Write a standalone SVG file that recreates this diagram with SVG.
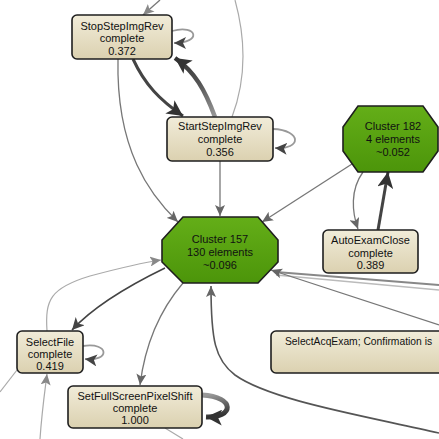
<svg xmlns="http://www.w3.org/2000/svg" width="439" height="439" viewBox="0 0 439 439">
<defs>
<linearGradient id="beige" x1="0" y1="0" x2="0" y2="1"><stop offset="0" stop-color="#f1ecd9"/><stop offset="1" stop-color="#dbd1b0"/></linearGradient>
<linearGradient id="green" x1="0" y1="0" x2="0" y2="1"><stop offset="0" stop-color="#64ae18"/><stop offset="1" stop-color="#4c950a"/></linearGradient>
<linearGradient id="g4" gradientUnits="userSpaceOnUse" x1="215" y1="117" x2="175" y2="58"><stop offset="0" stop-color="#999"/><stop offset="0.5" stop-color="#555"/><stop offset="1" stop-color="#333"/></linearGradient>
<linearGradient id="g20" gradientUnits="userSpaceOnUse" x1="202" y1="396" x2="206" y2="418"><stop offset="0" stop-color="#999"/><stop offset="1" stop-color="#333"/></linearGradient>
<marker id="aDark" markerUnits="userSpaceOnUse" markerWidth="14" markerHeight="12" refX="12" refY="6" orient="auto" viewBox="0 0 14 12"><path d="M0,0 L12,6 L0,12 L3,6 z" fill="#444"/></marker>
<marker id="aGray" markerUnits="userSpaceOnUse" markerWidth="12" markerHeight="10" refX="11" refY="5" orient="auto" viewBox="0 0 12 10"><path d="M0,0 L11,5 L0,10 L2.5,5 z" fill="#666"/></marker>
<marker id="aLight" markerUnits="userSpaceOnUse" markerWidth="12" markerHeight="10" refX="11" refY="5" orient="auto" viewBox="0 0 12 10"><path d="M0,0 L11,5 L0,10 L2.5,5 z" fill="#888"/></marker>
<marker id="aBig" markerUnits="userSpaceOnUse" markerWidth="18" markerHeight="16" refX="16" refY="8" orient="auto" viewBox="0 0 18 16"><path d="M0,0 L16,8 L0,16 L4,8 z" fill="#333"/></marker>
</defs>
<style>
.box{fill:url(#beige);stroke:#1e1e1e;stroke-width:1.6}
.oct{fill:url(#green);stroke:#1e1e1e;stroke-width:1.6}
text{font-family:"Liberation Sans",Arial,sans-serif;font-size:11px;fill:#111;text-anchor:middle}
.e{fill:none}
.light{stroke:#aaa;stroke-width:1.2}
.gray{stroke:#777;stroke-width:1.3}
.dark{stroke:#444;stroke-width:1.6}
</style>
<g id="connectors">
<path class="e gray" d="M160,0 L143,15" marker-end="url(#aLight)"/>
<path class="e" stroke="#999" stroke-width="1.8" d="M172,31 C198,24 202,43 174,43" marker-end="url(#aDark)"/>
<path class="e" stroke="#444" stroke-width="3" d="M133,59 C145,85 160,100 183,116" marker-end="url(#aBig)"/>
<path class="e" stroke="url(#g4)" stroke-width="4.5" d="M215,117 C205,90 195,72 175,58" marker-end="url(#aBig)"/>
<path class="e light" d="M235,0 C246,40 246,80 232,117"/>
<path class="e gray" d="M118,59 C116,150 150,195 178,222" marker-end="url(#aGray)"/>
<path class="e gray" d="M220,161 L220,216" marker-end="url(#aGray)"/>
<path class="e" stroke="#999" stroke-width="1.8" d="M273,129 C302,130 302,150 275,148" marker-end="url(#aDark)"/>
<path class="e gray" d="M352,164 L262,222" marker-end="url(#aGray)"/>
<path class="e gray" d="M363,172 C350,190 352,212 358,229" marker-end="url(#aGray)"/>
<path class="e" stroke="#444" stroke-width="3" d="M378,230 L388,172" marker-end="url(#aBig)"/>
<path class="e" stroke="#888" stroke-width="2" d="M439,285 L276,272"/>
<path class="e" stroke="#bbb" stroke-width="1.5" d="M439,290 L276,275"/>
<path class="e gray" d="M439,325 L271,270" marker-end="url(#aGray)"/>
<path class="e" stroke="#555" stroke-width="1.6" d="M439,433 C360,415 270,400 235,375 C215,360 211,340 211,286" marker-end="url(#aGray)"/>
<path class="e dark" d="M165,268 C130,285 95,305 72,330" marker-end="url(#aDark)"/>
<path class="e gray" d="M183,283 C160,310 145,345 140,385" marker-end="url(#aGray)"/>
<path class="e light" d="M47,331 C45,300 50,288 90,276 C120,268 140,263 161,260" marker-end="url(#aLight)"/>
<path class="e" stroke="#999" stroke-width="1.8" d="M83,346 C110,342 110,362 85,359" marker-end="url(#aDark)"/>
<path class="e light" d="M40,439 C42,410 45,390 47,374" marker-end="url(#aLight)"/>
<path class="e light" d="M0,392 L17,370"/>
<path class="e" stroke="url(#g20)" stroke-width="5" d="M202,395 C236,397 234,418 206,417" marker-end="url(#aBig)"/>
<path class="e light" d="M165,428 L183,439"/>
</g>
<g id="StopStepImgRev"><rect class="box" x="72" y="15" width="100" height="44" rx="5"/><text x="122" y="29.5">StopStepImgRev</text><text x="122" y="42">complete</text><text x="122" y="54.5">0.372</text></g>
<g id="StartStepImgRev"><rect class="box" x="167" y="117" width="106" height="44" rx="5"/><text x="220" y="130">StartStepImgRev</text><text x="220" y="143">complete</text><text x="220" y="156">0.356</text></g>
<g id="Cluster182"><polygon class="oct" points="358,106 423,106 438,127 438,151 423,172 358,172 343,151 343,127"/><text x="393" y="130">Cluster 182</text><text x="393" y="143">4 elements</text><text x="393" y="156">~0.052</text></g>
<g id="Cluster157"><polygon class="oct" points="183,217 258,217 278,240 278,262 258,283 183,283 162,262 162,240"/><text x="220" y="243">Cluster 157</text><text x="220" y="256">130 elements</text><text x="220" y="269">~0.096</text></g>
<g id="AutoExamClose"><rect class="box" x="323" y="230" width="95" height="43" rx="5"/><text x="370.5" y="244">AutoExamClose</text><text x="370.5" y="256.5">complete</text><text x="370.5" y="269">0.389</text></g>
<g id="SelectFile"><rect class="box" x="17" y="331" width="66" height="42" rx="5"/><text x="50" y="346">SelectFile</text><text x="50" y="358">complete</text><text x="50" y="370">0.419</text></g>
<g id="SetFullScreenPixelShift"><rect class="box" x="68" y="386" width="134" height="42" rx="5"/><text x="135" y="400">SetFullScreenPixelShift</text><text x="135" y="412">complete</text><text x="135" y="424">1.000</text></g>
<g id="SelectAcqExam"><rect class="box" x="271" y="331" width="200" height="42" rx="5"/><text x="285" y="345" style="text-anchor:start;font-size:10.3px">SelectAcqExam; Confirmation is</text></g>
</svg>
